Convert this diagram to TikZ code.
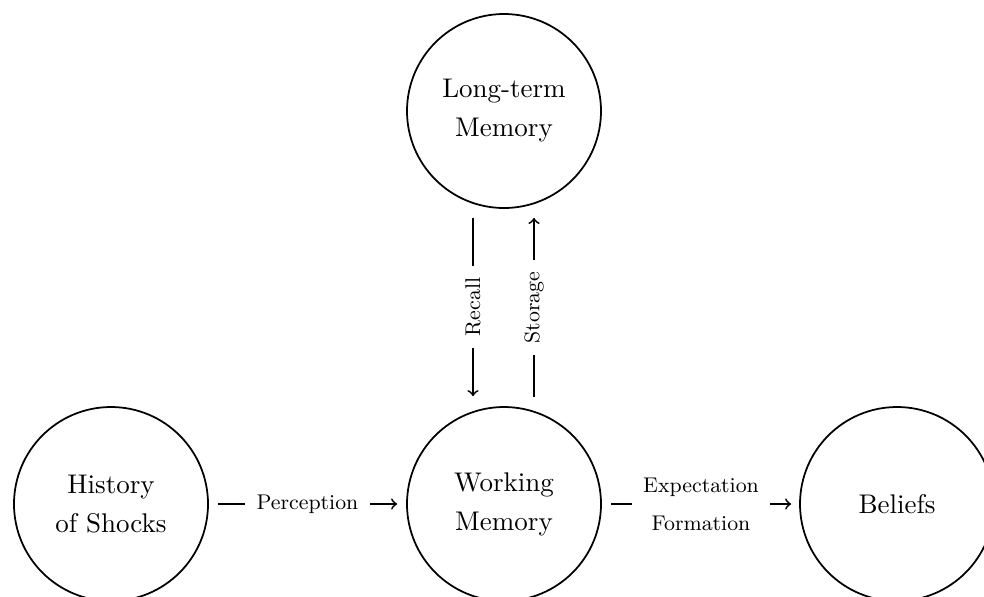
\documentclass[tikz,border=0pt]{standalone}
\usetikzlibrary{calc}
\tikzset{
  stage/.style={draw, circle, line width=0.7pt, minimum size=77.6pt, inner sep=0pt,
    align=center, font=\fontsize{10.8pt}{15.6pt}\selectfont},
  flow/.style={->, line width=0.7pt},
  flowlabel/.style={fill=white, inner sep=4.6pt, align=center,
    font=\fontsize{8.5pt}{15.2pt}\selectfont}
}
\begin{document}
\begin{tikzpicture}[x=0.4pt, y=-0.4pt]
  \clip (0,0) rectangle (984,596);
  \useasboundingbox (0,0) rectangle (984,596);

  \node[stage] (ltm) at (504,111) {Long-term\\Memory};
  \node[stage] (wm)  at (504,504) {Working\\Memory};
  \node[stage] (hist) at (111,504) {History\\of Shocks};
  \node[stage] (bel) at (897,504) {Beliefs};

  \draw[flow] ($(hist.east)+(9,0)$) -- node[flowlabel] {Perception} ($(wm.west)+(-9,0)$);
  \draw[flow] ($(wm.east)+(9,0)$) -- node[flowlabel] {Expectation\\Formation} ($(bel.west)+(-8,0)$);

  \draw[flow] ($(ltm.south)+(-31,9)$) -- node[flowlabel, rotate=90] {Recall} ($(wm.north)+(-31,-10)$);
  \draw[flow] ($(wm.north)+(30,-9)$) -- node[flowlabel, rotate=90] {Storage} ($(ltm.south)+(30,9)$);
\end{tikzpicture}
\end{document}
